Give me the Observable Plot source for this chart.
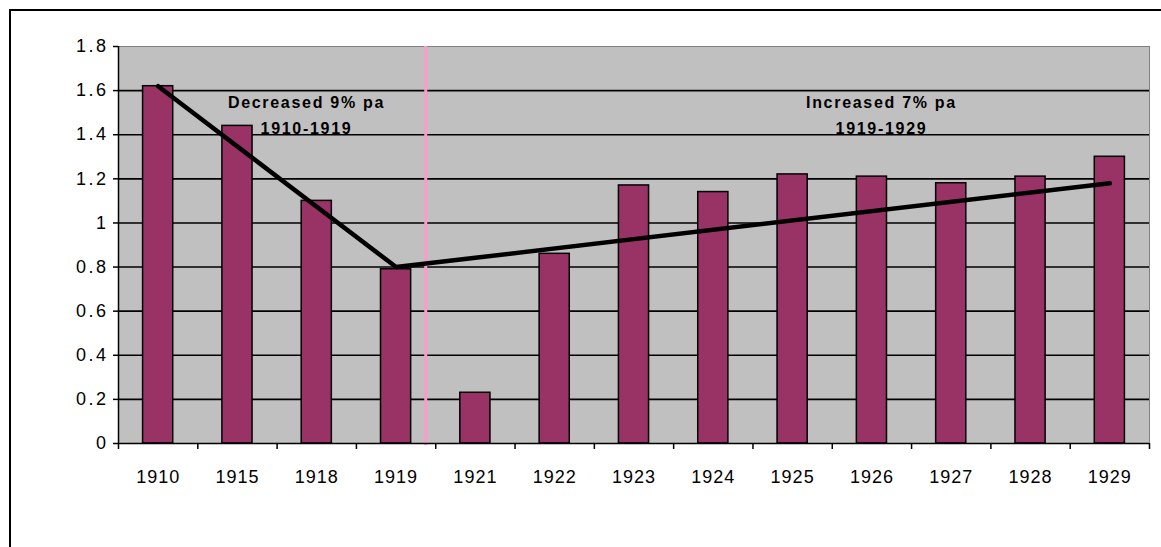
<!DOCTYPE html>
<html>
<head>
<meta charset="utf-8">
<script src="https://cdn.jsdelivr.net/npm/d3@7"></script>
<script src="https://cdn.jsdelivr.net/npm/@observablehq/plot@0.6"></script>
<style>
  html, body { margin: 0; padding: 0; background: #fff; overflow: hidden; }
  #wrap { position: relative; width: 1161px; height: 547px; overflow: hidden; }
  #border { position: absolute; left: 9px; top: 9px; width: 1400px; height: 800px;
            border-top: 2px solid #000; border-left: 2px solid #000; pointer-events: none; }
  #chart { position: absolute; left: 0; top: 0; }
  #chart svg { display: block; }
  #chart g[aria-label="y-axis tick label"] text { letter-spacing: 2.5px; }
  #chart g[aria-label="x-axis tick label"] text { letter-spacing: 1px; }
  #chart g[aria-label="text"] text { letter-spacing: 1.7px; }
</style>
</head>
<body>
<div id="wrap">
  <div id="chart"></div>
  <div id="border"></div>
</div>
<script>
// ---- data ----
const years = ["1910", "1915", "1918", "1919", "1921", "1922", "1923", "1924", "1925", "1926", "1927", "1928", "1929"];
const values = [1.62, 1.44, 1.10, 0.79, 0.23, 0.86, 1.17, 1.14, 1.22, 1.21, 1.18, 1.21, 1.30];
const trendYears = ["1910", "1919", "1929"];
const trendValues = [1.62, 0.80, 1.18];
const yTicks = [0, 0.2, 0.4, 0.6, 0.8, 1.0, 1.2, 1.4, 1.6, 1.8];
const yTickLabels = ["0", "0.2", "0.4", "0.6", "0.8", "1", "1.2", "1.4", "1.6", "1.8"];
const notes = ["Decreased 9% pa\n1910-1919", "Increased 7% pa\n1919-1929"];

// ---- derived tables ----
const bars = years.map((year, i) => ({year, value: values[i], i}));
const trend = trendYears.map((year, k) => ({pos: years.indexOf(year) + 0.5, value: trendValues[k]}));
const half = 0.19;

const chart = Plot.plot({
  width: 1161,
  height: 547,
  marginLeft: 118,
  marginRight: 12,
  marginTop: 46,
  marginBottom: 104,
  style: {fontFamily: "'Liberation Sans', Arial, sans-serif", background: "transparent", color: "#000"},
  x: {domain: [0, years.length], axis: null, label: null},
  y: {domain: [0, 1.8], axis: null, label: null},
  marks: [
    Plot.frame({fill: "#c0c0c0", stroke: "#808080"}),
    Plot.gridY({ticks: yTicks.filter(v => v > 0 && v < 1.8), stroke: "#000", strokeOpacity: 1, strokeWidth: 1.6}),
    Plot.rectY(bars, {
      x1: d => d.i + 0.5 - half,
      x2: d => d.i + 0.5 + half,
      y: "value",
      fill: "#993366",
      stroke: "#000",
      strokeWidth: 1.5
    }),
    Plot.ruleX([years.indexOf("1921")], {dx: -10, stroke: "#ff99cc", strokeWidth: 3, insetBottom: -2}),
    Plot.line(trend, {x: "pos", y: "value", stroke: "#000", strokeWidth: 4.5}),
    Plot.ruleX([0], {stroke: "#000", strokeWidth: 1.5}),
    Plot.ruleY([0], {stroke: "#000", strokeWidth: 1.5}),
    Plot.axisY({
      ticks: yTicks,
      tickSize: 5,
      tickPadding: 5,
      fontSize: 18,
      label: null,
      tickFormat: (d) => yTickLabels[yTicks.indexOf(d)],
      stroke: "#000",
      strokeWidth: 1.5
    }),
    Plot.axisX({
      ticks: d3.range(years.length + 1),
      tickSize: 6,
      label: null,
      tickFormat: () => "",
      stroke: "#000",
      strokeWidth: 1.5
    }),
    Plot.axisX({
      ticks: years.map((_, i) => i + 0.5),
      tickSize: 0,
      tickPadding: 27,
      fontSize: 18,
      label: null,
      tickFormat: (v) => years[Math.round(v - 0.5)]
    }),
    Plot.text([notes[0]], {
      text: d => d, x: () => 2.37, y: () => 1.5,
      fontSize: 16, fontWeight: "bold", lineHeight: 1.6, fill: "#000"
    }),
    Plot.text([notes[1]], {
      text: d => d, x: () => 9.62, y: () => 1.5,
      fontSize: 16, fontWeight: "bold", lineHeight: 1.6, fill: "#000"
    })
  ]
});
document.getElementById("chart").appendChild(chart);
</script>
</body>
</html>
